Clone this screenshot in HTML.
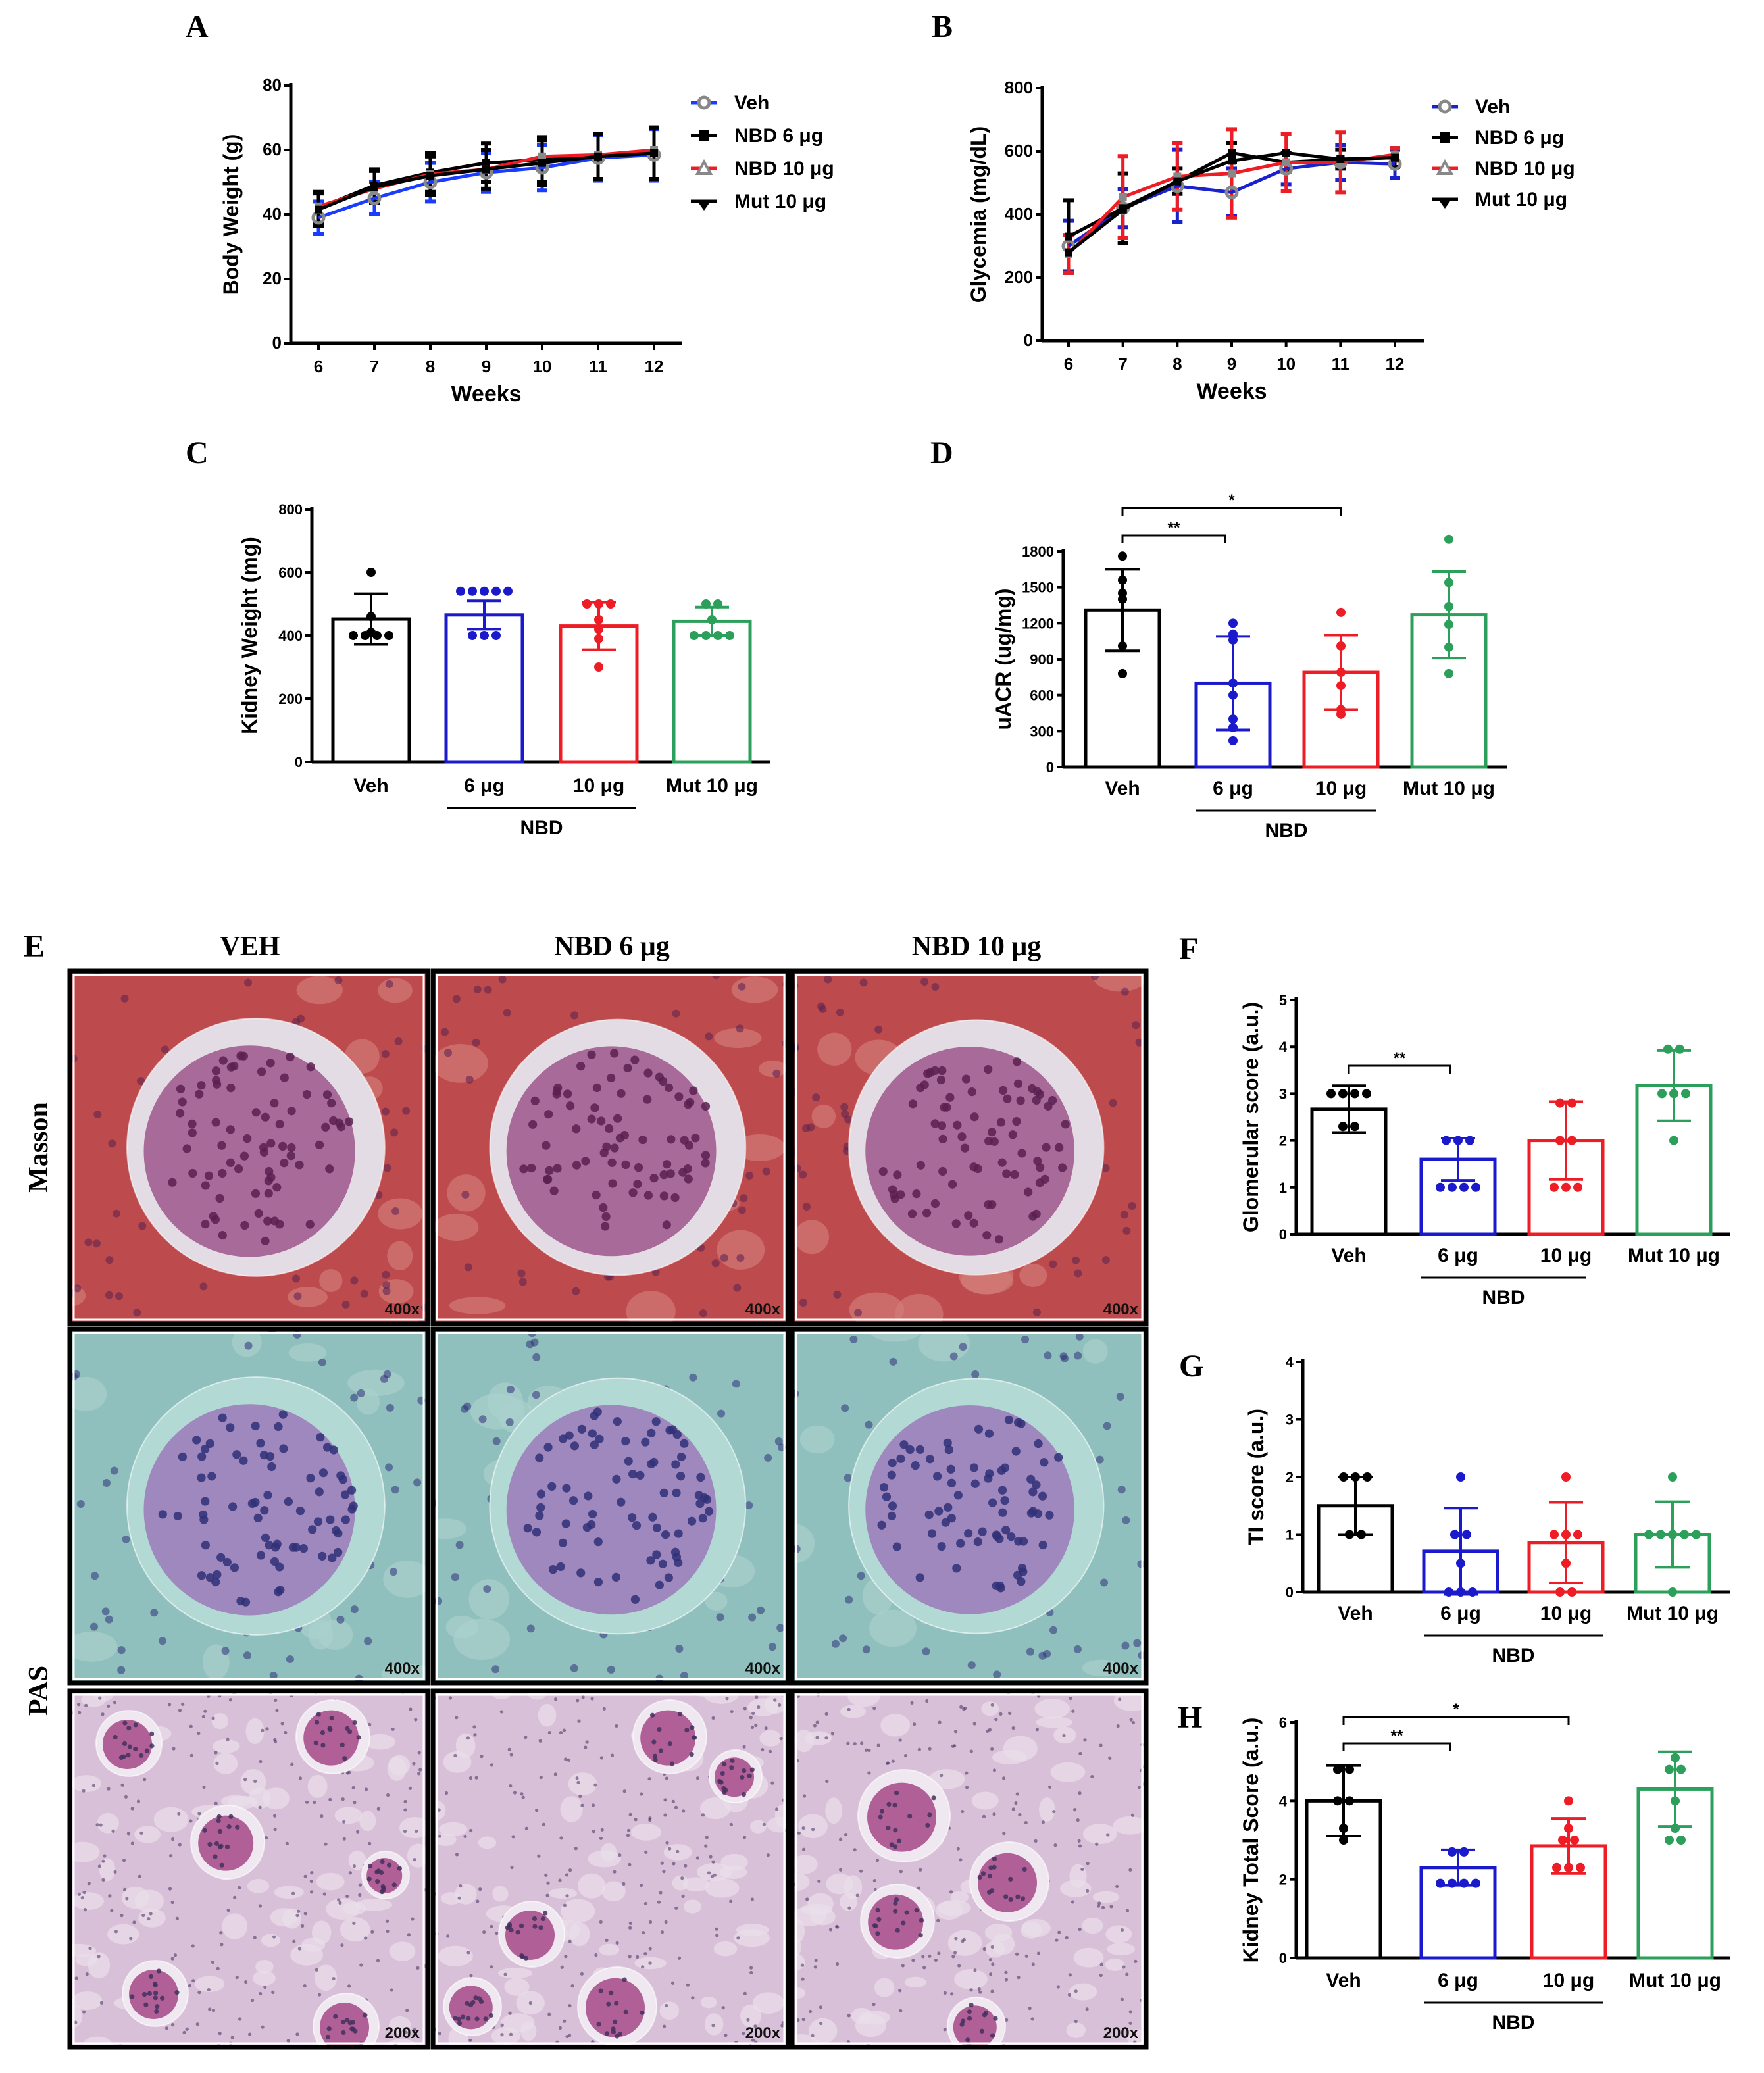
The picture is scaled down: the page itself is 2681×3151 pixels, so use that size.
<!DOCTYPE html>
<html><head><meta charset="utf-8">
<style>
html,body{margin:0;padding:0;background:#fff;}
svg{display:block;}
text{font-family:"Liberation Sans",Arial,sans-serif;}
.ser{font-family:"Liberation Serif","DejaVu Serif",serif;font-weight:bold;}
</style></head>
<body>
<svg id="fig" width="2681" height="3151" viewBox="0 0 1340.5 1575.5" xmlns="http://www.w3.org/2000/svg">
<rect width="1340.5" height="1575.5" fill="#fff"/>
<g id="labels" font-weight="bold">
<text class="ser" x="141" y="28" font-size="24">A</text>
<text class="ser" x="708" y="28" font-size="24">B</text>
<text class="ser" x="141" y="352" font-size="24">C</text>
<text class="ser" x="707" y="352" font-size="24">D</text>
<text class="ser" x="18" y="727" font-size="24">E</text>
<text class="ser" x="896" y="729" font-size="24">F</text>
<text class="ser" x="896" y="1046" font-size="24">G</text>
<text class="ser" x="895" y="1313" font-size="24">H</text>
<text class="ser" x="190" y="726" font-size="21" text-anchor="middle">VEH</text>
<text class="ser" x="465" y="726" font-size="21" text-anchor="middle">NBD 6 μg</text>
<text class="ser" x="742" y="726" font-size="21" text-anchor="middle">NBD 10 μg</text>
<text class="ser" font-size="21" text-anchor="middle" transform="translate(36,872) rotate(-90)">Masson</text>
<text class="ser" font-size="21" text-anchor="middle" transform="translate(36,1285) rotate(-90)">PAS</text>
</g>
<g id="histo"></g>
<g id="charts"></g>
</svg>
<script>
// ---------- DATA ----------
var weeks=[6,7,8,9,10,11,12];
var seriesNames=["Veh","NBD 6 μg","NBD 10 μg","Mut 10 μg"];
var bwVeh=[39,45,50,53,54.5,57.5,58.5];
var bwNbd6=[42,49,53,56,57,58,59];
var bwNbd10=[42.5,48,52.5,54,58,58.5,60];
var bwMut=[41.5,48.5,52,54,56,58,59];
var bwErr=[5,5,6,6,7,7,8];
var glVeh=[300,420,490,470,545,565,560];
var glVehErr=[80,60,115,75,50,55,45];
var glNbd6=[330,420,505,595,565,575,580];
var glNbd6Err=[115,110,40,30,30,30,30];
var glNbd10=[275,455,520,530,565,565,590];
var glNbd10Err=[60,130,105,140,90,95,20];
var glMut=[280,415,505,570,595,575,580];
var barGroups=["Veh","6 μg","10 μg","Mut 10 μg"];
var kwMean=[452,465,430,445];
var kwSd=[80,45,75,45];
var kwDots=[[600,460,410,400,400,400,400],[540,540,540,540,540,400,400,400],[500,500,500,450,420,390,300],[500,500,450,400,400,400,400]];
var acrMean=[1310,700,790,1270];
var acrSd=[340,390,310,360];
var acrDots=[[1760,1560,1450,1400,1010,780],[1200,1110,1060,700,600,400,330,220],[1290,1010,790,680,480,440],[1900,1540,1340,1190,1000,780]];
var gsMean=[2.67,1.6,2.0,3.17];
var gsSd=[0.5,0.45,0.83,0.75];
var gsDots=[[3,3,3,3,2.3,2.3],[2,2,2,1,1,1,1],[2.8,2.8,2,2,1,1,1],[3.95,3.95,3,3,3,2]];
var tiMean=[1.5,0.71,0.86,1.0];
var tiSd=[0.5,0.75,0.7,0.57];
var tiDots=[[2,2,2,1,1],[2,1,1,0.5,0,0,0],[2,1,1,1,0.5,0,0],[2,1,1,1,1,1,0]];
var ktMean=[4.0,2.3,2.85,4.3];
var ktSd=[0.9,0.45,0.7,0.95];
var ktDots=[[4.8,4.8,4,4,3.3,3.0],[2.7,2.7,1.9,1.9,1.9,1.9],[4,3.3,3,3,2.3,2.3,2.3],[5.1,4.8,4.8,4,3.3,3,3]];

var NS="http://www.w3.org/2000/svg";
function mk(tag,attrs,parent,txt){var e=document.createElementNS(NS,tag);for(var k in attrs)e.setAttribute(k,attrs[k]);if(txt!==undefined)e.textContent=txt;parent.appendChild(e);return e;}
var charts=document.getElementById('charts');
var barColors=["#000","#1a1acc","#ee1c24","#2ca05a"];

function axisY(g,x0,yTop,yZero,vmax,ticks,labelText,labelX,fs){
  var s=function(v){return yZero-(v/vmax)*(yZero-yTop);};
  var ax=mk('line',{x1:x0,y1:yTop-2,x2:x0,y2:yZero,stroke:'#000','stroke-width':2.5},g);
  
  
  ticks.forEach(function(t){
    mk('line',{x1:x0-5,y1:s(t),x2:x0,y2:s(t),stroke:'#000','stroke-width':2},g);
    var tl=mk('text',{x:x0-7,y:s(t)+4,'font-size':fs||12,'font-weight':'bold','text-anchor':'end'},g,String(t));
    
    
  });
  var yl=mk('text',{'font-size':16,'font-weight':'bold','text-anchor':'middle',transform:'translate('+labelX+','+((yTop+yZero)/2)+') rotate(-90)'},g,labelText);
  
  
  return s;
}

function lineChart(name,cfg,series,errs){
  var g=mk('g',{},charts);
  
  
  var s=axisY(g,cfg.x0,cfg.yTop,cfg.yZero,cfg.vmax,cfg.ticks,cfg.ylabel,cfg.ylx,13);
  var xs=function(w){return cfg.x6+(w-6)*(cfg.x12-cfg.x6)/6;};
  var xa=mk('line',{x1:cfg.x0,y1:cfg.yZero,x2:cfg.xEnd,y2:cfg.yZero,stroke:'#000','stroke-width':2.5},g);
  
  
  weeks.forEach(function(w){
    mk('line',{x1:xs(w),y1:cfg.yZero,x2:xs(w),y2:cfg.yZero+5,stroke:'#000','stroke-width':2},g);
    var t=mk('text',{x:xs(w),y:cfg.yZero+22,'font-size':13,'font-weight':'bold','text-anchor':'middle'},g,String(w));
    
    
  });
  var xt=mk('text',{x:(xs(6)+xs(12))/2,y:cfg.yZero+44,'font-size':17,'font-weight':'bold','text-anchor':'middle'},g,'Weeks');
  
  
  var cols=cfg.colors;
  series.forEach(function(vals,i){
    var err=errs[i];
    vals.forEach(function(v,j){
      if(!err)return;var e=err[j];var x=xs(weeks[j]);
      mk('line',{x1:x,y1:s(v-e),x2:x,y2:s(v+e),stroke:cols[i],'stroke-width':2.5},g);
      mk('line',{x1:x-4,y1:s(v-e),x2:x+4,y2:s(v-e),stroke:cols[i],'stroke-width':3},g);
      mk('line',{x1:x-4,y1:s(v+e),x2:x+4,y2:s(v+e),stroke:cols[i],'stroke-width':3},g);
    });
  });
  series.forEach(function(vals,i){
    var p=vals.map(function(v,j){return xs(weeks[j])+','+s(v);}).join(' ');
    var pl=mk('polyline',{points:p,fill:'none',stroke:cols[i],'stroke-width':2.5},g);
    
    
    vals.forEach(function(v,j){
      if(i==0){mk('circle',{cx:xs(weeks[j]),cy:s(v),r:4,fill:'none',stroke:'#888','stroke-width':2.5},g);}
      else {mk('rect',{x:xs(weeks[j])-3,y:s(v)-3,width:6,height:6,fill:i==2?'#888':'#000'},g);}
    });
  });
  seriesNames.forEach(function(n,i){
    var y=cfg.legY+i*cfg.legDy;
    var lg=mk('g',{},g);
    
    
    mk('line',{x1:cfg.legX,y1:y,x2:cfg.legX+20,y2:y,stroke:cols[i],'stroke-width':2.5},lg);
    if(i==0)mk('circle',{cx:cfg.legX+10,cy:y,r:4,fill:'#fff',stroke:'#888','stroke-width':2.5},lg);
    else if(i==2)mk('path',{d:'M'+(cfg.legX+10)+','+(y-5)+' l5,9 l-10,0z',fill:'#fff',stroke:'#888','stroke-width':2},lg);
    else if(i==1)mk('rect',{x:cfg.legX+6,y:y-4,width:8,height:8,fill:'#000'},lg);
    else mk('path',{d:'M'+(cfg.legX+5)+','+(y)+' l10,0 l-5,7z',fill:'#000'},lg);
    mk('text',{x:cfg.legX+33,y:y+5,'font-size':15,'font-weight':'bold'},lg,n);
  });
}

lineChart('body-weight-chart',{x0:221,yTop:65,yZero:261,vmax:80,ticks:[0,20,40,60,80],ylabel:'Body Weight (g)',ylx:181,x6:242,x12:497,xEnd:518,legX:525,legY:78,legDy:25,colors:['#1a3cff','#000','#ee1c24','#000']},
  [bwVeh,bwNbd6,bwNbd10,bwMut],[bwErr,bwErr,null,bwErr]);
lineChart('glycemia-chart',{x0:792,yTop:67,yZero:259,vmax:800,ticks:[0,200,400,600,800],ylabel:'Glycemia (mg/dL)',ylx:749,x6:812,x12:1060,xEnd:1082,legX:1088,legY:81,legDy:23.5,colors:['#1a22cc','#000','#ee1c24','#000']},
  [glVeh,glNbd6,glNbd10,glMut],[glVehErr,glNbd6Err,glNbd10Err,null]);

function barChart(name,cfg,means,sds,dots){
  var g=mk('g',{},charts);
  
  
  var s=axisY(g,cfg.x0,cfg.yTop,cfg.yZero,cfg.vmax,cfg.ticks,cfg.ylabel,cfg.ylx,11);
  var xa=mk('line',{x1:cfg.x0,y1:cfg.yZero,x2:cfg.xEnd,y2:cfg.yZero,stroke:'#000','stroke-width':2.5},g);
  
  
  means.forEach(function(m,i){
    var cx=cfg.cx[i],w=cfg.bw;
    var b=mk('rect',{x:cx-w/2,y:s(m),width:w,height:cfg.yZero-s(m),fill:'#fff',stroke:barColors[i],'stroke-width':2.5},g);
    
    
    var sd=sds[i];
    mk('line',{x1:cx,y1:s(m-sd),x2:cx,y2:s(m+sd),stroke:barColors[i],'stroke-width':2},g);
    mk('line',{x1:cx-13,y1:s(m+sd),x2:cx+13,y2:s(m+sd),stroke:barColors[i],'stroke-width':2},g);
    mk('line',{x1:cx-13,y1:s(m-sd),x2:cx+13,y2:s(m-sd),stroke:barColors[i],'stroke-width':2},g);
    var d=dots[i];var counts={};
    d.forEach(function(v){counts[v]=(counts[v]||0)+1;});
    var seen={};
    d.forEach(function(v){
      var n=counts[v];var k=seen[v]||0;seen[v]=k+1;
      var off=(k-(n-1)/2)*9;
      var c=mk('circle',{cx:cx+off,cy:s(v),r:3.5,fill:barColors[i]},g);
      
      
    });
    var lab=mk('text',{x:cx,y:cfg.yZero+cfg.labDy,'font-size':15,'font-weight':'bold','text-anchor':'middle'},g,barGroups[i]);
    
    
  });
  mk('line',{x1:cfg.nbd[0],y1:cfg.yZero+cfg.labDy+12,x2:cfg.nbd[1],y2:cfg.yZero+cfg.labDy+12,stroke:'#000','stroke-width':1.5},g);
  var nl=mk('text',{x:(cfg.nbd[0]+cfg.nbd[1])/2,y:cfg.yZero+cfg.labDy+32,'font-size':15,'font-weight':'bold','text-anchor':'middle'},g,'NBD');
  
  
  (cfg.sig||[]).forEach(function(sg){
    var x1=cfg.cx[sg[0]],x2=cfg.cx[sg[1]]-(sg[1]==1?6:0),y=sg[2];
    var br=mk('path',{d:'M'+x1+','+(y+6)+' L'+x1+','+y+' L'+x2+','+y+' L'+x2+','+(y+6),fill:'none',stroke:'#000','stroke-width':1.5},g);
    
    
    mk('text',{x:(x1+x2)/2,y:y-2,'font-size':12,'font-weight':'bold','text-anchor':'middle'},g,sg[3]);
  });
}

barChart('kidney-weight-chart',{x0:237,yTop:387,yZero:579,vmax:800,ticks:[0,200,400,600,800],ylabel:'Kidney Weight (mg)',ylx:195,xEnd:585,cx:[282,368,455,541],bw:58,labDy:23,nbd:[340,483]},kwMean,kwSd,kwDots);
barChart('uacr-chart',{x0:808,yTop:419,yZero:583,vmax:1800,ticks:[0,300,600,900,1200,1500,1800],ylabel:'uACR (ug/mg)',ylx:768,xEnd:1145,cx:[853,937,1019,1101],bw:56,labDy:21,nbd:[909,1046],sig:[[0,1,407,'**'],[0,2,386,'*']]},acrMean,acrSd,acrDots);
barChart('glomerular-score-chart',{x0:985,yTop:760,yZero:938,vmax:5,ticks:[0,1,2,3,4,5],ylabel:'Glomerular score (a.u.)',ylx:956,xEnd:1315,cx:[1025,1108,1190,1272],bw:56,labDy:21,nbd:[1080,1205],sig:[[0,1,810,'**']]},gsMean,gsSd,gsDots);
barChart('ti-score-chart',{x0:990,yTop:1035,yZero:1210,vmax:4,ticks:[0,1,2,3,4],ylabel:'TI score (a.u.)',ylx:960,xEnd:1315,cx:[1030,1110,1190,1271],bw:56,labDy:21,nbd:[1082,1218]},tiMean,tiSd,tiDots);
barChart('kidney-total-score-chart',{x0:985,yTop:1309,yZero:1488,vmax:6,ticks:[0,2,4,6],ylabel:'Kidney Total Score (a.u.)',ylx:956,xEnd:1315,cx:[1021,1108,1192,1273],bw:56,labDy:22,nbd:[1082,1218],sig:[[0,1,1325,'**'],[0,2,1305,'*']]},ktMean,ktSd,ktDots);

// ---------- histology (decorative textures) ----------
var seed=7;function rnd(){seed=(seed*16807)%2147483647;return seed/2147483647;}
var histo=document.getElementById('histo');
var colsX=[[53,325],[329,599],[602,871]];
var rowsY=[[738,1006],[1010,1279],[1285,1556]];
var themes=[
 {bg:'#bd4a4c',tub:'#d27a78',sp:'#e4dce4',glom:'#a86a98',nuc:'#5a2050',mag:'400x'},
 {bg:'#8fc0be',tub:'#a9d0cc',sp:'#b3d9d4',glom:'#9f88bd',nuc:'#303078',mag:'400x'},
 {bg:'#d8c0d8',tub:'#ebdeeb',sp:'#f0e8f0',glom:'#b06096',nuc:'#43305e',mag:'200x'}];
rowsY.forEach(function(ry,r){
  colsX.forEach(function(cxr,c){
    var th=themes[r];var x=cxr[0],y=ry[0],w=cxr[1]-cxr[0],h=ry[1]-ry[0];
    var g=mk('g',{},histo);
    
    
    var cp=mk('clipPath',{id:'cp'+r+c},g);mk('rect',{x:x,y:y,width:w,height:h},cp);
    var ig=mk('g',{'clip-path':'url(#cp'+r+c+')'},g);
    mk('rect',{x:x,y:y,width:w,height:h,fill:th.bg},ig);
    for(var i=0;i<(r==2?70:16);i++){
      mk('ellipse',{cx:x+rnd()*w,cy:y+rnd()*h,rx:r==2?6+rnd()*8:8+rnd()*14,ry:r==2?4+rnd()*6:6+rnd()*10,fill:th.tub,opacity:0.7},ig);
    }
    for(var i=0;i<(r==2?260:70);i++){
      mk('circle',{cx:x+rnd()*w,cy:y+rnd()*h,r:r==2?1.3:3,fill:th.nuc,opacity:0.55},ig);
    }
    var gl=r<2?[[x+w*0.52,y+h*0.5,w*0.36]]:(c==0?[[x+45,y+40,25],[x+200,y+35,28],[x+120,y+115,28],[x+240,y+140,18],[x+65,y+230,25],[x+210,y+255,25]]:c==1?[[x+180,y+35,28],[x+230,y+65,20],[x+75,y+185,25],[x+140,y+240,30],[x+30,y+240,22]]:[[x+85,y+95,35],[x+165,y+145,30],[x+80,y+175,28],[x+140,y+255,22]]);
    gl.forEach(function(q){
      mk('circle',{cx:q[0],cy:q[1],r:q[2],fill:th.sp,stroke:'#fff','stroke-width':1,'stroke-opacity':0.6},ig);
      mk('circle',{cx:q[0]-q[2]*0.05,cy:q[1]+q[2]*0.03,r:q[2]*(r<2?0.82:0.75),fill:th.glom},ig);
      var nn=r<2?75:14;
      for(var k=0;k<nn;k++){var a=rnd()*6.283,rr=Math.sqrt(rnd())*q[2]*0.76;
        mk('circle',{cx:q[0]+Math.cos(a)*rr,cy:q[1]+Math.sin(a)*rr,r:r<2?3.3:1.8,fill:th.nuc,opacity:0.85},ig);}
    });
    mk('rect',{x:x,y:y,width:w,height:h,fill:'none',stroke:'#000','stroke-width':3.5},g);
    mk('rect',{x:x+3,y:y+3,width:w-6,height:h-6,fill:'none',stroke:'#fff','stroke-width':1.5},g);
    var t=mk('text',{x:x+w-6,y:y+h-7,'font-size':12,'font-weight':'bold','text-anchor':'end',fill:'#111'},g,th.mag);
    
    
  });
});
</script>
</body></html>
